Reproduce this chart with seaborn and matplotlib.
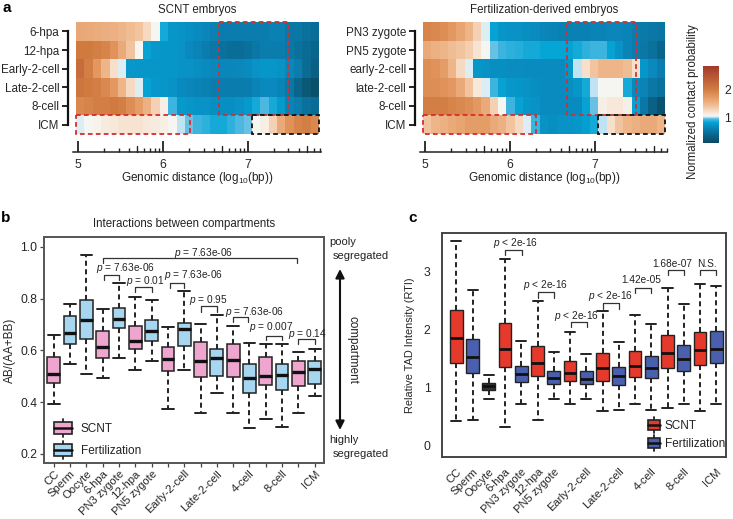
import numpy as np
import pandas as pd
import matplotlib
matplotlib.use("Agg")
import matplotlib.pyplot as plt
import seaborn as sns
from matplotlib.colors import LinearSegmentedColormap
from matplotlib.patches import Rectangle, FancyArrowPatch
from matplotlib.lines import Line2D
from matplotlib.legend_handler import HandlerBase

sns.set_theme(style="white")
plt.rcParams["font.family"] = ["Liberation Sans", "DejaVu Sans"]
plt.rcParams["mathtext.fontset"] = "custom"
plt.rcParams["mathtext.rm"] = "Liberation Sans"
plt.rcParams["mathtext.it"] = "Liberation Sans:italic"
plt.rcParams["text.color"] = "#222222"

W, H = 733, 519
FS = 8.3
TICK_FS = 8.7
ROW_FS = 8.4
XLAB_FS = 8.1

# ---------- panel a data ----------
scnt_rows = ["6-hpa", "12-hpa", "Early-2-cell", "Late-2-cell", "8-cell", "ICM"]
fert_rows = ["PN3 zygote", "PN5 zygote", "early-2-cell", "late-2-cell", "8-cell", "ICM"]
scnt_6hpa = [1.62,1.6,1.58,1.56,1.55,1.5,1.45,1.4,1.25,1.05,0.85,0.72,0.7,0.68,0.66,0.62,0.58,0.55,0.55,0.55,0.55,0.55,0.55,0.58,0.58,0.5,0.5,0.45,0.42]
scnt_12hpa = [2.05,2.05,2.0,1.95,1.8,1.6,1.4,1.05,0.8,0.74,0.72,0.72,0.7,0.65,0.6,0.55,0.5,0.45,0.42,0.42,0.45,0.5,0.55,0.55,0.55,0.5,0.45,0.4,0.35]
scnt_early = [2.2,2.0,1.75,1.5,1.2,1.02,0.74,0.72,0.72,0.72,0.72,0.72,0.7,0.7,0.68,0.66,0.64,0.62,0.62,0.64,0.66,0.7,0.72,0.72,0.7,0.62,0.55,0.4,0.28]
scnt_late = [2.1,2.05,2.0,1.9,1.75,1.5,1.25,1.02,0.8,0.74,0.72,0.7,0.65,0.62,0.6,0.58,0.55,0.55,0.55,0.55,0.55,0.6,0.65,0.65,0.6,0.5,0.35,0.2,0.12]
scnt_8cell = [1.9,1.95,2.0,2.0,2.05,2.0,1.85,1.7,1.55,1.3,1.1,0.9,0.75,0.72,0.7,0.7,0.68,0.68,0.68,0.7,0.75,0.85,0.92,0.85,0.75,0.6,0.55,0.45,0.4]
scnt_icm = [1.02,1.05,1.08,1.12,1.15,1.18,1.18,1.18,1.15,1.12,1.1,1.05,1.0,0.95,0.9,0.88,0.85,0.85,0.88,0.92,0.95,1.05,1.1,1.3,1.6,1.8,1.95,2.0,1.9]
fert_pn3 = [1.95,1.9,1.85,1.75,1.65,1.5,1.3,1.02,0.8,0.72,0.7,0.7,0.68,0.66,0.62,0.6,0.58,0.58,0.58,0.58,0.6,0.6,0.62,0.62,0.6,0.55,0.52,0.5,0.48]
fert_pn5 = [1.6,1.55,1.5,1.45,1.4,1.32,1.18,1.05,0.95,0.9,0.88,0.87,0.85,0.85,0.82,0.82,0.82,0.8,0.85,0.88,0.9,0.9,0.8,0.7,0.6,0.55,0.5,0.45,0.35]
fert_early = [1.85,1.8,1.7,1.5,1.25,1.02,0.72,0.7,0.68,0.68,0.67,0.67,0.66,0.66,0.66,0.66,0.66,0.72,1.0,1.2,1.4,1.5,1.5,1.5,1.45,1.2,0.72,0.65,0.55]
fert_late = [1.85,1.85,1.8,1.75,1.6,1.4,1.15,1.02,0.9,0.8,0.74,0.72,0.7,0.68,0.66,0.66,0.66,0.68,0.72,0.85,1.0,1.05,1.05,1.05,0.85,0.65,0.6,0.5,0.45]
fert_8cell = [2.0,2.0,2.0,1.95,1.9,1.85,1.75,1.6,1.3,1.05,0.9,0.8,0.72,0.7,0.66,0.66,0.66,0.66,0.66,0.8,0.95,1.1,1.15,1.15,1.1,0.8,0.5,0.3,0.15]
fert_icm = [1.4,1.5,1.55,1.6,1.65,1.7,1.7,1.7,1.6,1.55,1.4,1.25,1.02,0.9,0.7,0.68,0.7,0.7,0.72,0.78,0.85,1.0,1.2,1.4,1.5,1.55,1.6,1.6,1.5]
scnt_matrix = [scnt_6hpa, scnt_12hpa, scnt_early, scnt_late, scnt_8cell, scnt_icm]
fert_matrix = [fert_pn3, fert_pn5, fert_early, fert_late, fert_8cell, fert_icm]

# ---------- panels b, c data: low, q1, median, q3, high ----------
stage_keys = ["CC","Sperm","Oocyte","6-hpa","PN3 zygote","12-hpa","PN5 zygote",
              "Early S","Early F","Late S","Late F","4 S","4 F","8 S","8 F","ICM S","ICM F"]
stage_groups = ["SCNT","Fertilization","Fertilization","SCNT","Fertilization","SCNT","Fertilization",
                "SCNT","Fertilization","SCNT","Fertilization","SCNT","Fertilization","SCNT","Fertilization","SCNT","Fertilization"]
tick_labels = ["CC","Sperm","Oocyte","6-hpa","PN3 zygote","12-hpa","PN5 zygote","",
               "Early-2-cell","","Late-2-cell","","4-cell","","8-cell","","ICM"]
b_stats = [
    [0.394,0.473,0.507,0.573,0.658],[0.546,0.623,0.669,0.731,0.779],[0.510,0.645,0.717,0.793,0.968],
    [0.492,0.569,0.613,0.673,0.758],[0.570,0.686,0.723,0.763,0.861],[0.525,0.605,0.635,0.693,0.806],
    [0.558,0.635,0.675,0.716,0.794],[0.372,0.520,0.567,0.614,0.691],[0.524,0.617,0.681,0.704,0.829],
    [0.357,0.496,0.558,0.631,0.702],[0.434,0.502,0.569,0.605,0.735],[0.357,0.498,0.563,0.624,0.693],
    [0.299,0.437,0.492,0.546,0.630],[0.335,0.468,0.502,0.573,0.626],[0.305,0.448,0.505,0.549,0.626],
    [0.357,0.461,0.515,0.558,0.594],[0.424,0.471,0.528,0.560,0.604]]
c_stats = [
    [0.425,1.43,1.85,2.34,3.52],[0.44,1.26,1.53,1.845,2.68],[0.80,0.96,1.02,1.075,1.22],
    [0.33,1.36,1.67,2.11,3.22],[0.71,1.09,1.24,1.37,1.80],[0.44,1.20,1.42,1.72,2.49],
    [0.80,1.07,1.17,1.29,1.62],[0.72,1.115,1.26,1.465,1.965],[0.80,1.06,1.15,1.29,1.58],
    [0.59,1.12,1.33,1.60,2.32],[0.61,1.05,1.195,1.36,1.79],[0.71,1.19,1.38,1.63,2.25],
    [0.615,1.16,1.33,1.54,2.10],[0.655,1.345,1.59,1.90,2.71],[0.71,1.28,1.49,1.735,2.44],
    [0.59,1.385,1.645,1.955,2.78],[0.71,1.425,1.67,1.97,2.76]]
# brackets: start, end, level, drop, label, label x, label y
b_brackets = [
    (3.0,14.9,0.958,0.022,r"$\it{p}$ = 7.63e-06",9.2,0.975),
    (3.05,4.0,0.893,0.022,r"$\it{p}$ = 7.63e-06",4.4,0.918),
    (5.0,6.0,0.846,0.022,r"$\it{p}$ = 0.01",5.6,0.866),
    (7.1,8.0,0.861,0.019,r"$\it{p}$ = 7.63e-06",8.55,0.890),
    (9.0,10.0,0.770,0.020,r"$\it{p}$ = 0.95",9.5,0.795),
    (11.0,11.9,0.727,0.019,r"$\it{p}$ = 7.63e-06",12.3,0.750),
    (13.0,14.0,0.657,0.017,r"$\it{p}$ = 0.007",13.35,0.692),
    (15.0,16.0,0.644,0.019,r"$\it{p}$ = 0.14",15.55,0.662),
]
c_brackets = [
    (3.0,4.05,3.38,0.09,r"$\it{p}$ < 2e-16",3.65,3.49),
    (5.0,6.0,2.64,0.09,r"$\it{p}$ < 2e-16",5.5,2.77),
    (7.05,8.05,2.13,0.09,r"$\it{p}$ < 2e-16",7.4,2.23),
    (9.0,10.0,2.45,0.09,r"$\it{p}$ < 2e-16",9.5,2.58),
    (11.0,12.0,2.72,0.09,"1.42e-05",11.35,2.85),
    (13.0,14.0,3.02,0.08,"1.68e-07",13.3,3.13),
    (15.0,16.0,3.02,0.08,"N.S.",15.45,3.13),
]

# ---------- helpers ----------
fig = plt.figure(figsize=(W/100, H/100), dpi=100)
def add_px(x0, y0, x1, y1):
    return fig.add_axes([x0/W, 1-y1/H, (x1-x0)/W, (y1-y0)/H])
def ftext(x, y, s, **kw):
    kw.setdefault("fontsize", FS)
    kw.setdefault("ha", "center")
    kw.setdefault("va", "center")
    fig.text(x/W, 1-y/H, s, **kw)

cmap = LinearSegmentedColormap.from_list("contact", [
    (0.00, "#0b4a60"), (0.12, "#0a6a94"), (0.20, "#0a86ba"), (0.27, "#04a5d6"),
    (0.31, "#55bae0"), (0.335, "#c8e6f4"), (0.35, "#f8f6f2"),
    (0.42, "#f5d9c0"), (0.50, "#efb88e"), (0.60, "#e3975f"), (0.70, "#d07a40"),
    (0.80, "#c0643a"), (1.00, "#a1382a")])
VMIN, VMAX = 0.05, 2.9
G0 = 4.98
GSTEP = 0.0986

def heat(matrix, rows, box, cbar_ax=None):
    x0, x1 = box
    ax = add_px(x0, 22, x1, 134)
    sns.heatmap(np.array(matrix), ax=ax, cmap=cmap, vmin=VMIN, vmax=VMAX,
                cbar=cbar_ax is not None, cbar_ax=cbar_ax,
                xticklabels=False, yticklabels=rows)
    ax.tick_params(axis="y", left=True, length=4, width=1.3, color="#111111",
                   labelsize=ROW_FS, rotation=0, pad=2)
    ax.spines["left"].set_visible(True)
    ax.spines["left"].set_position(("outward", 6))
    ax.spines["left"].set_bounds(0.5, 5.5)
    ax.spines["left"].set_linewidth(1.6)
    ax.spines["left"].set_color("#111111")
    return ax

def to_col(g):
    return (g - G0) / GSTEP

def dashed(ax, g0, g1, r0, r1, color):
    ax.add_patch(Rectangle((to_col(g0), r0), to_col(g1)-to_col(g0), r1-r0, fill=False,
                           edgecolor=color, linewidth=1.3, linestyle=(0, (2.6, 1.8)),
                           clip_on=False, zorder=5))

def genomic_axis(x0, x1, g_left, g_right):
    ax = add_px(x0, 140, x1, 152)
    ax.set_xlim(g_left, g_right)
    ax.set_ylim(0, 1)
    ax.patch.set_alpha(0)
    for s in ["left", "right", "top"]:
        ax.spines[s].set_visible(False)
    ax.spines["bottom"].set_linewidth(1.1)
    ax.spines["bottom"].set_color("#222222")
    ax.set_yticks([])
    ax.set_xticks([5, 6, 7])
    ax.set_xticklabels(["5", "6", "7"], fontsize=TICK_FS)
    ax.tick_params(axis="x", which="major", direction="in", bottom=True, length=8, width=1.3,
                   color="#222222", pad=5)
    decades = [5, 6, 7]
    minor = [d + np.log10(m) for d in decades for m in [2, 3, 4, 6, 7, 8, 9]]
    minor = [m for m in minor if m < g_right]
    ax.set_xticks(minor, minor=True)
    ax.tick_params(axis="x", which="minor", direction="in", bottom=True, length=3, width=1.0,
                   color="#222222")
    for d in decades:
        g = d + np.log10(5)
        ax.plot([g, g], [0, 0.48], color="#222222", lw=1.0, clip_on=False)

cax = add_px(703, 65.5, 719, 143)
ax_l = heat(scnt_matrix, scnt_rows, (76, 319), cax)
ax_r = heat(fert_matrix, fert_rows, (423, 665))
cax.set_yticks([1, 2])
cax.tick_params(axis="y", right=True, direction="in", length=4, width=0.8, color="white",
                labelsize=TICK_FS, pad=4)
ftext(693, 102, "Normalized contact probability", rotation=90)

dashed(ax_l, 6.66, 7.48, 0, 5, "#cc3333")
dashed(ax_l, G0, 6.32, 5, 6, "#d92b2b")
dashed(ax_l, 7.05, 7.84, 5, 6, "#111111")
dashed(ax_r, 6.68, 7.5, 0, 5, "#cc3333")
dashed(ax_r, G0, 6.32, 5, 6, "#d92b2b")
dashed(ax_r, 7.05, 7.84, 5, 6, "#111111")
genomic_axis(73.5, 321, 4.947, 7.86)
genomic_axis(420, 667, 4.94, 7.85)
ftext(197, 10, "SCNT embryos")
ftext(544, 10, "Fertilization-derived embryos")
ftext(197, 178, r"Genomic distance (log$_{10}$(bp))", fontsize=8.5)
ftext(544, 178, r"Genomic distance (log$_{10}$(bp))", fontsize=8.5)

# ---------- box panels ----------
class BoxHandler(HandlerBase):
    def __init__(self, color):
        super().__init__()
        self.color = color
    def create_artists(self, legend, orig, xd, yd, w, h, fs, trans):
        cx = w/2 - xd
        cy = h/2 - yd
        r = Rectangle((-xd, cy-h*0.62), w, h*1.24, facecolor=self.color, edgecolor="#222222",
                      lw=1.2, transform=trans)
        m = Line2D([-xd, w-xd], [cy, cy], color="#111111", lw=1.8, transform=trans)
        wh = Line2D([cx, cx], [cy-h*0.95, cy+h*0.95], color="#222222", lw=1.3, transform=trans)
        return [wh, r, m]

def boxes(ax, stats, palette, lw, med_lw, capw, ticks):
    df = pd.DataFrame([
        {"stage": k, "group": g, "value": v}
        for k, g, row in zip(stage_keys, stage_groups, stats) for v in row])
    sns.boxplot(data=df, x="stage", y="value", hue="group", order=stage_keys,
                hue_order=["SCNT", "Fertilization"], palette=palette, dodge=False,
                width=0.78, whis=(0, 100), saturation=1, ax=ax, legend=False,
                linecolor="#222222", linewidth=lw,
                whiskerprops={"linestyle": (0, (2.6, 1.8)), "linewidth": 1.4},
                capprops={"linewidth": 1.4},
                medianprops={"linewidth": med_lw, "color": "#111111"},
                capwidths=capw)
    for s in ax.spines.values():
        s.set_visible(True)
        s.set_linewidth(1.4)
        s.set_color("#555555")
    ax.set_xlabel("")
    ax.set_xticks(range(len(tick_labels)))
    ax.set_xticklabels(tick_labels, rotation=45, ha="right", rotation_mode="anchor", fontsize=XLAB_FS)
    ax.tick_params(axis="y", left=ticks, length=3, width=0.9, color="#444444",
                   labelsize=TICK_FS, pad=2 if ticks else 5)
    ax.tick_params(axis="x", bottom=ticks, length=3, width=0.9, color="#444444",
                   labelsize=XLAB_FS, pad=1 if ticks else 4)

def brackets(ax, items, fs=7.3):
    for x0, x1, y, d, label, lx, ly in items:
        ax.plot([x0, x0, x1, x1], [y-d, y, y, y-d], color="#333333", lw=0.9)
        ax.text(lx, ly, label, ha="center", va="center", fontsize=fs)

def px_anchor(x, y):
    return (x/W, 1-y/H)

# panel b
ax_b = add_px(44, 236.7, 324, 463)
pal_b = {"SCNT": "#eea6cf", "Fertilization": "#a6d6f0"}
boxes(ax_b, b_stats, pal_b, 1.1, 2.4, 0.72, True)
ax_b.set_xlim(-0.6, 16.57)
ax_b.set_ylim(0.165, 1.039)
ax_b.set_yticks([0.2, 0.4, 0.6, 0.8, 1.0])
ax_b.set_ylabel("AB/(AA+BB)", fontsize=8.5, labelpad=3)
brackets(ax_b, b_brackets)
ftext(184, 224, "Interactions between compartments")
h1, h2 = Line2D([], []), Line2D([], [])
ax_b.legend([h1, h2], ["SCNT", "Fertilization"], loc="upper left",
            bbox_to_anchor=px_anchor(54, 423), bbox_transform=fig.transFigure,
            frameon=False, fontsize=8.5, borderpad=0, borderaxespad=0,
            handlelength=1.5, handleheight=0.82, handletextpad=0.76, labelspacing=0.86,
            handler_map={h1: BoxHandler(pal_b["SCNT"]), h2: BoxHandler(pal_b["Fertilization"])})
ftext(329, 242, "pooly", ha="left", fontsize=8.0)
ftext(333, 256, "segregated", ha="left", fontsize=8.0)
ftext(329, 440, "highly", ha="left", fontsize=8.0)
ftext(333, 454, "segregated", ha="left", fontsize=8.0)
ftext(352.5, 350, "compartment", rotation=270, fontsize=8.4)
fig.add_artist(FancyArrowPatch(
    (340/W, 1-269/H), (340/W, 1-430/H), transform=fig.transFigure, arrowstyle="<|-|>",
    mutation_scale=13, color="#111111", lw=1.5, shrinkA=0, shrinkB=0))

# panel c
ax_c = add_px(441.7, 232.7, 726, 456.7)
pal_c = {"SCNT": "#e53a2b", "Fertilization": "#4a5fae"}
boxes(ax_c, c_stats, pal_c, 1.0, 2.0, 0.62, False)
# the oocyte box is drawn dark in the original
for p in ax_c.patches:
    if abs(p.get_path().vertices[:, 0].mean() - stage_keys.index("Oocyte")) < 0.3:
        p.set_facecolor("#333333")
for s in ax_c.spines.values():
    s.set_color("#444444")
ax_c.set_xlim(-0.9, 16.6)
ax_c.set_ylim(-0.19, 3.67)
ax_c.set_yticks([0, 1, 2, 3])
ax_c.set_ylabel("Relative TAD Intensity (RTI)", fontsize=7.9, labelpad=6)
brackets(ax_c, c_brackets)
h3, h4 = Line2D([], []), Line2D([], [])
ax_c.legend([h3, h4], ["SCNT", "Fertilization"], loc="upper left",
            bbox_to_anchor=px_anchor(648, 420), bbox_transform=fig.transFigure,
            frameon=False, fontsize=8.5, borderpad=0, borderaxespad=0,
            handlelength=1.0, handleheight=0.7, handletextpad=0.4, labelspacing=0.5,
            handler_map={h3: BoxHandler(pal_c["SCNT"]), h4: BoxHandler(pal_c["Fertilization"])})

ftext(7, 8, "a", fontsize=11, fontweight="bold", color="black")
ftext(6, 218, "b", fontsize=11, fontweight="bold", color="black")
ftext(413, 218, "c", fontsize=11, fontweight="bold", color="black")

fig.savefig("out.png", dpi=100)
